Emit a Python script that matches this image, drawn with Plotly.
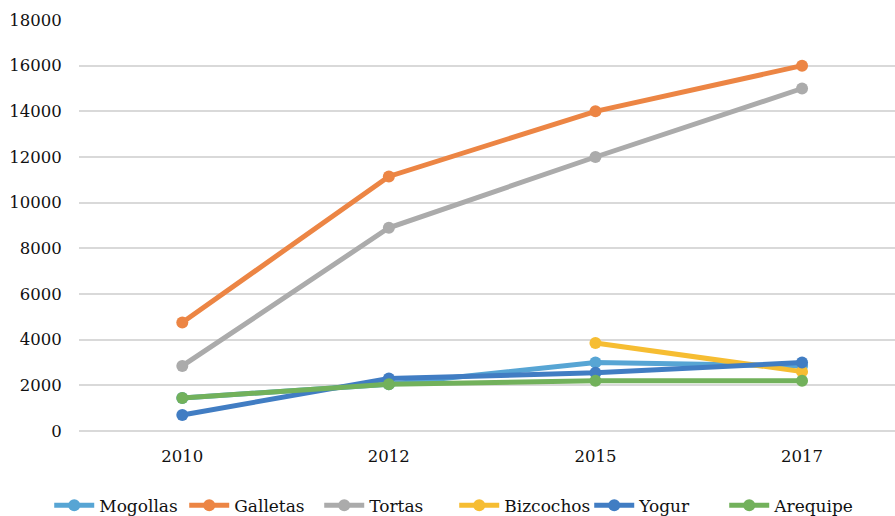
import plotly.graph_objects as go

years = ["2010", "2012", "2015", "2017"]
mogollas = [1450, 2050, 3000, 2850]
galletas = [4750, 11150, 14000, 16000]
tortas = [2850, 8900, 12000, 15000]
bizcochos = [None, None, 3850, 2600]
yogur = [700, 2300, 2550, 3000]
arequipe = [1450, 2050, 2200, 2200]
yticks = [0, 2000, 4000, 6000, 8000, 10000, 12000, 14000, 16000, 18000]

series = [
    ("Mogollas", mogollas, "#57A5D4"),
    ("Galletas", galletas, "#EC8544"),
    ("Tortas", tortas, "#ABABAB"),
    ("Bizcochos", bizcochos, "#F6BD32"),
    ("Yogur", yogur, "#417DC3"),
    ("Arequipe", arequipe, "#72B15B"),
]

fig = go.Figure()
for name, vals, col in series:
    fig.add_trace(go.Scatter(
        x=years, y=vals, name=name, mode="lines+markers",
        line=dict(color=col, width=5),
        marker=dict(color=col, size=12),
        connectgaps=False,
    ))

font = "DejaVu Serif"
fs = 16.5
fig.update_layout(
    width=895, height=516,
    margin=dict(l=79, r=0, t=20, b=85, autoexpand=False),
    paper_bgcolor="white", plot_bgcolor="white",
    font=dict(family=font, size=fs, color="#111111"),
    showlegend=True,
    legend=dict(orientation="h", xref="container", x=0.055, xanchor="left",
                yref="container", y=0.02, yanchor="middle",
                itemwidth=40, entrywidth=80, entrywidthmode="pixels",
                font=dict(family=font, size=17, color="#111111"),
                tracegroupgap=0),
    xaxis=dict(type="category", range=[-0.5, 3.45], showgrid=False, zeroline=False,
               showline=False, ticks="outside", ticklen=10, tickcolor="rgba(0,0,0,0)",
               automargin=False,
               tickfont=dict(family=font, size=fs, color="#111111")),
    yaxis=dict(range=[0, 18000], tickvals=yticks, ticktext=[str(v) for v in yticks],
               showgrid=True, gridcolor="#D9D9D9",
               gridwidth=1.5, zeroline=True, zerolinecolor="#D9D9D9", zerolinewidth=1.5,
               showline=False, ticks="outside", ticklen=13, tickcolor="rgba(0,0,0,0)",
               automargin=False,
               tickfont=dict(family=font, size=fs, color="#111111")),
)
fig.write_html("out.html")
